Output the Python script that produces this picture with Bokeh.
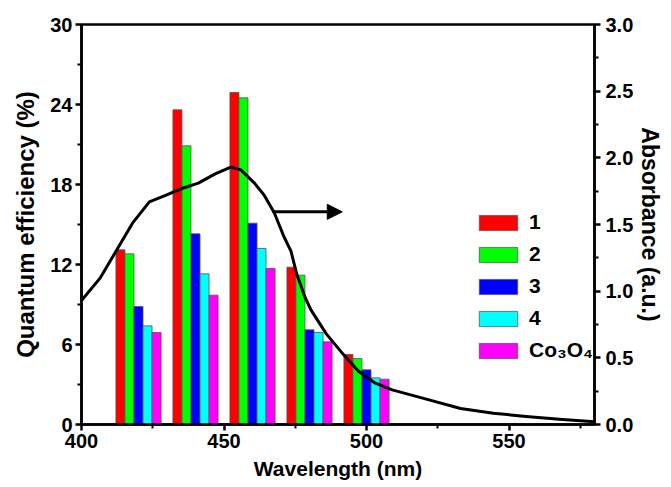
from bokeh.plotting import figure
from bokeh.models import (ColumnDataSource, Range1d, LinearAxis, FixedTicker,
                          Arrow, NormalHead, Legend, LegendItem, PrintfTickFormatter)
from bokeh.transform import dodge
from bokeh.embed import file_html
from bokeh.resources import INLINE

# ---------------- data ----------------
group_wavelength = [420, 440, 460, 480, 500]
qe_1 = [13.1, 23.6, 24.9, 11.8, 5.25]
qe_2 = [12.8, 20.9, 24.5, 11.2, 4.95]
qe_3 = [8.85, 14.3, 15.1, 7.1, 4.1]
qe_4 = [7.4, 11.3, 13.2, 6.9, 3.5]
qe_co3o4 = [6.9, 9.7, 11.7, 6.2, 3.4]
series_labels = ["1", "2", "3", "4", "Co₃O₄"]

abs_wavelength = [400, 406.6, 412.4, 417.9, 423.8, 429.7, 435.2, 441.0, 446.9,
                  452.4, 455.9, 460.7, 464.1, 467.6, 471.0, 473.5, 475.5, 478.3,
                  480.5, 485.9, 491.7, 497.2, 503.1, 509.0, 521.0, 533.0, 544.5,
                  556.0, 567.6, 580.0]
absorbance = [0.93, 1.10, 1.31, 1.51, 1.67, 1.72, 1.77, 1.81, 1.88,
              1.93, 1.91, 1.81, 1.72, 1.59, 1.41, 1.30, 1.13, 0.96,
              0.86, 0.68, 0.53, 0.40, 0.31, 0.26, 0.19, 0.12, 0.085,
              0.06, 0.04, 0.02]

x_ticks = [400, 450, 500, 550]
x_minor = [425, 475, 525, 575]
y_ticks = [0, 6, 12, 18, 24, 30]
y_minor = [3, 9, 15, 21, 27]
y2_ticks = [0.0, 0.5, 1.0, 1.5, 2.0, 2.5, 3.0]
y2_minor = [0.25, 0.75, 1.25, 1.75, 2.25, 2.75]

arrow_start_x, arrow_end_x, arrow_y = 467.0, 491.5, 15.95

colors = ["#ff0000", "#00ff00", "#0000ff", "#00ffff", "#ff00ff"]
bar_w = 3.17
FONT = "Liberation Sans"

src = ColumnDataSource(dict(x=group_wavelength, s0=qe_1, s1=qe_2, s2=qe_3,
                            s3=qe_4, s4=qe_co3o4))

p = figure(width=666, height=484, output_backend="svg", toolbar_location=None,
           x_range=Range1d(400, 580), y_range=Range1d(0, 30),
           min_border_left=81, min_border_top=24, min_border_right=65,
           min_border_bottom=60, background_fill_color="white",
           border_fill_color="white")
p.extra_y_ranges = {"abs": Range1d(0, 3)}
p.grid.visible = False
p.outline_line_color = "black"
p.outline_line_width = 2.5

renderers = []
for i, col in enumerate(["s0", "s1", "s2", "s3", "s4"]):
    r = p.vbar(x=dodge("x", (i - 2) * bar_w, range=p.x_range), top=col,
               width=bar_w, bottom=0, source=src, fill_color=colors[i],
               line_color="#555555", line_width=0.8)
    renderers.append(r)

p.line(abs_wavelength, absorbance, y_range_name="abs", line_color="black",
       line_width=3, line_join="round")

p.add_layout(Arrow(end=NormalHead(size=15, fill_color="black", line_color="black"),
                   x_start=arrow_start_x, y_start=arrow_y,
                   x_end=arrow_end_x, y_end=arrow_y,
                   line_width=3, line_color="black"))

def style_axis(ax, ticks, minor, label_size):
    ax.ticker = FixedTicker(ticks=ticks, minor_ticks=minor)
    ax.axis_line_width = 2.5
    ax.axis_line_color = "black"
    ax.major_tick_line_width = 2.5
    ax.minor_tick_line_width = 2
    ax.major_tick_out = 6
    ax.major_tick_in = 0
    ax.minor_tick_out = 4
    ax.minor_tick_in = 0
    ax.major_label_text_font = FONT
    ax.major_label_text_font_style = "bold"
    ax.major_label_text_font_size = "20px"
    ax.major_label_text_color = "black"
    ax.axis_label_text_font = FONT
    ax.axis_label_text_font_style = "bold"
    ax.axis_label_text_font_size = label_size
    ax.axis_label_text_color = "black"

xa = p.xaxis[0]
style_axis(xa, x_ticks, x_minor, "21px")
xa.axis_label = "Wavelength (nm)"
xa.major_label_standoff = 3
xa.axis_label_standoff = 6

ya = p.yaxis[0]
style_axis(ya, y_ticks, y_minor, "24px")
ya.axis_label = "Quantum efficiency (%)"
ya.major_label_standoff = 3
ya.axis_label_standoff = 8

ya2 = LinearAxis(y_range_name="abs", axis_label="Absorbance (a.u.)")
style_axis(ya2, y2_ticks, y2_minor, "23px")
ya2.formatter = PrintfTickFormatter(format="%.1f")
ya2.major_label_standoff = 5
ya2.axis_label_standoff = 1
p.add_layout(ya2, "right")

legend = Legend(items=[LegendItem(label=series_labels[i], renderers=[renderers[i]])
                       for i in range(5)],
                location=(393, 62), orientation="vertical",
                glyph_width=48, glyph_height=19, label_height=19,
                spacing=8, padding=0, margin=0, label_standoff=7,
                border_line_color=None, background_fill_alpha=0,
                label_text_font=FONT, label_text_font_style="bold",
                label_text_font_size="21px", label_text_color="black")
p.add_layout(legend)

open("out.html", "w").write(file_html(p, INLINE))
